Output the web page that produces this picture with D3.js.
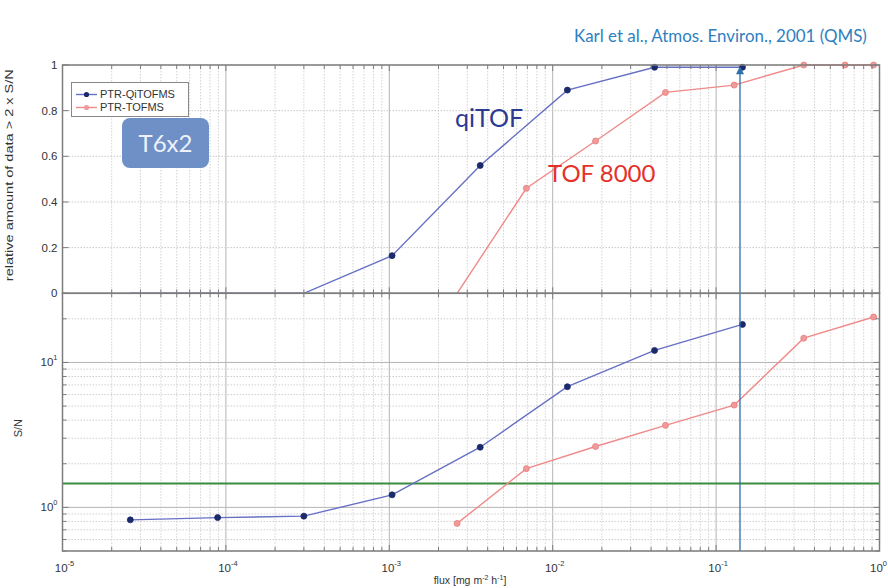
<!DOCTYPE html>
<html>
<head>
<meta charset="utf-8">
<script src="https://cdn.jsdelivr.net/npm/d3@7/dist/d3.min.js"></script>
<style>
  html, body { margin: 0; padding: 0; background: #fff; }
  svg { display: block; font-family: "Liberation Sans", Arial, sans-serif; }
</style>
</head>
<body>
<svg id="chart" width="888" height="588"></svg>
<script>
// Flux (mg m^-2 h^-1) and detection statistics for the two instruments
const fluxQi  = [2.6e-5, 8.9e-5, 3.0e-4, 1.04e-3, 3.6e-3, 1.23e-2, 4.2e-2, 0.145];
const fracQi  = [0, 0, 0, 0.165, 0.56, 0.89, 0.99, 0.99];
const snQi    = [0.82, 0.85, 0.87, 1.22, 2.6, 6.8, 12.1, 18.3];

const fluxTof = [2.6e-3, 6.9e-3, 1.83e-2, 4.9e-2, 0.129, 0.344, 0.615, 0.92];
const fracTof = [0, 0.46, 0.667, 0.88, 0.912, 1.0, 1.0, 1.0];
const snTof   = [0.775, 1.85, 2.63, 3.68, 5.08, 14.7, null, 20.6];

const seriesNames = ["PTR-QiTOFMS", "PTR-TOFMS"];
const fracTicks = [0, 0.2, 0.4, 0.6, 0.8, 1];
const fluxDecades = [-5, -4, -3, -2, -1, 0];
const snDecades = [0, 1];
const snThreshold = 1.46;   // green reference level
const markFlux = 0.14;      // vertical marker

const svg = d3.select("#chart");
const humanist = "Lato, 'Open Sans', sans-serif";

const x = d3.scaleLog().domain([1e-5, 1]).range([62.5, 879.5]);
const yTop = d3.scaleLinear().domain([0, 1]).range([293.3, 65]);
const yBot = d3.scaleLog().domain([0.5, 30]).range([551, 293.3]);

const [x0, x1] = x.range();
const isDecade = d => Math.abs(Math.log10(d) - Math.round(Math.log10(d))) < 1e-6;

// minor log positions along x
const xMinor = [];
for (let e = -5; e < 0; e++) for (let m = 1; m < 10; m++) xMinor.push(m * Math.pow(10, e));
xMinor.push(1);
const yMinor = [];
for (let e = -1; e < 2; e++) for (let m = 1; m < 10; m++) {
  const v = m * Math.pow(10, e);
  if (v >= 0.5 && v <= 30) yMinor.push(v);
}

// ---------- grid ----------
const grid = svg.append("g");
function vGrid(y0, y1) {
  grid.selectAll(null).data(xMinor).enter().append("line")
    .attr("x1", d => x(d)).attr("x2", d => x(d))
    .attr("y1", y0).attr("y2", y1)
    .attr("stroke", d => isDecade(d) ? "#b4b4b4" : "#d2d2d2")
    .attr("stroke-width", 1)
    .attr("stroke-dasharray", d => isDecade(d) ? null : "1.5,1.5");
}
vGrid(yTop(1), yTop(0));
vGrid(yBot(30), yBot(0.5));
grid.selectAll(null).data(fracTicks).enter().append("line")
  .attr("x1", x0).attr("x2", x1)
  .attr("y1", d => yTop(d)).attr("y2", d => yTop(d))
  .attr("stroke", "#c8c8c8").attr("stroke-dasharray", "1.5,1.5");
grid.selectAll(null).data(yMinor).enter().append("line")
  .attr("x1", x0).attr("x2", x1)
  .attr("y1", d => yBot(d)).attr("y2", d => yBot(d))
  .attr("stroke", d => isDecade(d) ? "#b4b4b4" : "#cfcfcf")
  .attr("stroke-dasharray", d => isDecade(d) ? null : "1.5,1.5");

// ---------- data ----------
const colQiLine = "#6670c4", colQiMark = "#1b2a6b";
const colTofLine = "#f08a8a", colTofMark = "#f19a9a";

function pts(fl, vals) {
  return fl.map((f, i) => ({ f, v: vals[i] })).filter(d => d.v !== null);
}
const qiTop = pts(fluxQi, fracQi), tofTop = pts(fluxTof, fracTof);
const qiBot = pts(fluxQi, snQi), tofBot = pts(fluxTof, snTof);

const lineTop = d3.line().x(d => x(d.f)).y(d => yTop(d.v));
const lineBot = d3.line().x(d => x(d.f)).y(d => yBot(d.v));

// reference level in S/N panel
svg.append("line")
  .attr("x1", x0).attr("x2", x1)
  .attr("y1", yBot(snThreshold)).attr("y2", yBot(snThreshold))
  .attr("stroke", "#3d8c3d").attr("stroke-width", 2);

const data = svg.append("g");
[[tofTop, lineTop, colTofLine], [tofBot, lineBot, colTofLine],
 [qiTop, lineTop, colQiLine], [qiBot, lineBot, colQiLine]].forEach(([d, gen, c]) => {
  data.append("path").datum(d).attr("d", gen)
    .attr("fill", "none").attr("stroke", c).attr("stroke-width", 1.4);
});
function marks(d, yS, fill, stroke) {
  data.selectAll(null).data(d.filter(p => yS === yBot || p.v > 0)).enter().append("circle")
    .attr("cx", p => x(p.f)).attr("cy", p => yS(p.v)).attr("r", 3)
    .attr("fill", fill).attr("stroke", stroke).attr("stroke-width", 0.8);
}
marks(tofTop, yTop, colTofMark, "#e87b7b");
marks(tofBot, yBot, colTofMark, "#e87b7b");
marks(qiTop, yTop, colQiMark, colQiMark);
marks(qiBot, yBot, colQiMark, colQiMark);

// vertical marker with arrow head
const mx = x(markFlux);
svg.append("line")
  .attr("x1", mx).attr("x2", mx)
  .attr("y1", yBot(0.5)).attr("y2", yTop(0.985))
  .attr("stroke", "#2f6faa").attr("stroke-width", 1.3);
svg.append("path")
  .attr("d", `M${mx},${yTop(0.995)} L${mx - 4},${yTop(0.96)} L${mx + 4},${yTop(0.96)} Z`)
  .attr("fill", "#2f6faa");

// ---------- axes ----------
const axCol = "#7d7d7d";
const axes = svg.append("g");
function frame(yA, yB) {
  axes.append("rect").attr("x", x0).attr("y", yA).attr("width", x1 - x0).attr("height", yB - yA)
    .attr("fill", "none").attr("stroke", axCol).attr("stroke-width", 1.5);
  axes.selectAll(null).data(xMinor).enter().append("line")
    .attr("x1", d => x(d)).attr("x2", d => x(d))
    .attr("y1", yB).attr("y2", d => yB - (isDecade(d) ? 6 : 4))
    .attr("stroke", axCol);
  axes.selectAll(null).data(xMinor).enter().append("line")
    .attr("x1", d => x(d)).attr("x2", d => x(d))
    .attr("y1", yA).attr("y2", d => yA + (isDecade(d) ? 6 : 4))
    .attr("stroke", axCol);
}
frame(yTop(1), yTop(0));
frame(yBot(30), yBot(0.5));

// y ticks
axes.selectAll(null).data(fracTicks).enter().append("g").each(function (d) {
  const g = d3.select(this), yy = yTop(d);
  g.append("line").attr("x1", x0).attr("x2", x0 + 6).attr("y1", yy).attr("y2", yy).attr("stroke", axCol);
  g.append("line").attr("x1", x1).attr("x2", x1 - 6).attr("y1", yy).attr("y2", yy).attr("stroke", axCol);
  g.append("text").attr("x", x0 - 5).attr("y", yy + 4).attr("text-anchor", "end")
    .attr("font-size", 11.5).attr("fill", "#333").text(d3.format("~g")(d));
});
axes.selectAll(null).data(yMinor).enter().append("g").each(function (d) {
  const g = d3.select(this), yy = yBot(d), maj = isDecade(d);
  g.append("line").attr("x1", x0).attr("x2", x0 + (maj ? 6 : 4)).attr("y1", yy).attr("y2", yy).attr("stroke", axCol);
  g.append("line").attr("x1", x1).attr("x2", x1 - (maj ? 6 : 4)).attr("y1", yy).attr("y2", yy).attr("stroke", axCol);
});
function powLabel(sel, e, px, py, anchor) {
  const t = sel.append("text").attr("x", px).attr("y", py).attr("text-anchor", anchor)
    .attr("font-size", 11.5).attr("fill", "#333");
  t.append("tspan").text("10");
  t.append("tspan").attr("dy", -6).attr("font-size", 7.5).text(e);
}
snDecades.forEach(e => powLabel(axes, e, x0 - 5, yBot(Math.pow(10, e)) + 4, "end"));
fluxDecades.forEach((e, i) => {
  const last = i === fluxDecades.length - 1;
  powLabel(axes, e, last ? 887 : x(Math.pow(10, e)) + 2, 572, last ? "end" : "middle");
});

// axis titles
svg.append("text")
  .attr("transform", `translate(13,${(yTop(0) + yTop(1)) / 2 - 4}) rotate(-90)`)
  .attr("text-anchor", "middle").attr("font-size", 10.5).attr("fill", "#333")
  .attr("textLength", 212).attr("lengthAdjust", "spacingAndGlyphs")
  .text("relative amount of data > 2 x S/N");
svg.append("text")
  .attr("transform", `translate(22,${(yBot(0.5) + yBot(30)) / 2 + 6}) rotate(-90)`)
  .attr("text-anchor", "middle").attr("font-size", 11).attr("fill", "#333")
  .text("S/N");
const xl = svg.append("text").attr("x", 470).attr("y", 584).attr("text-anchor", "middle")
  .attr("font-size", 10.5).attr("fill", "#333");
xl.append("tspan").text("flux [mg m");
xl.append("tspan").attr("dy", -4).attr("font-size", 7).text("-2");
xl.append("tspan").attr("dy", 4).text(" h");
xl.append("tspan").attr("dy", -4).attr("font-size", 7).text("-1");
xl.append("tspan").attr("dy", 4).text("]");

// legend
const lg = svg.append("g");
lg.append("rect").attr("x", 71.5).attr("y", 82.5).attr("width", 117).attr("height", 34)
  .attr("fill", "#fff").attr("stroke", "#888").attr("stroke-width", 1);
[[seriesNames[0], colQiLine, colQiMark], [seriesNames[1], colTofLine, colTofMark]].forEach(([n, lc, mc], i) => {
  const yy = 94.5 + i * 13;
  lg.append("line").attr("x1", 76).attr("x2", 97).attr("y1", yy).attr("y2", yy).attr("stroke", lc).attr("stroke-width", 1.4);
  lg.append("circle").attr("cx", 86.5).attr("cy", yy).attr("r", 2.6).attr("fill", mc);
  lg.append("text").attr("x", 100).attr("y", yy + 3.8).attr("font-size", 11).attr("fill", "#333").text(n);
});

// T6x2 badge
svg.append("rect").attr("x", 122).attr("y", 118).attr("width", 87).attr("height", 50).attr("rx", 8)
  .attr("fill", "#6f90c6");
svg.append("text").attr("x", 165.5).attr("y", 152).attr("text-anchor", "middle")
  .style("font-family", humanist).attr("font-size", 24).attr("fill", "#eef2fa").text("T6x2");

// in-plot annotations
svg.append("text").attr("x", 455).attr("y", 127).style("font-family", humanist)
  .attr("font-size", 25).attr("fill", "#2c3a92").text("qiTOF");
svg.append("text").attr("x", 548).attr("y", 182).style("font-family", humanist)
  .attr("font-size", 24).attr("fill", "#e5312b").text("TOF 8000");

// citation, sized to its slot at the top right
const cite = svg.append("text").attr("x", 574).attr("y", 42).style("font-family", humanist)
  .attr("font-size", 20).attr("fill", "#2f7fc0")
  .text("Karl et al., Atmos. Environ., 2001 (QMS)");
const cw = cite.node().getComputedTextLength();
cite.attr("font-size", 20 * 293 / cw);
</script>
</body>
</html>
